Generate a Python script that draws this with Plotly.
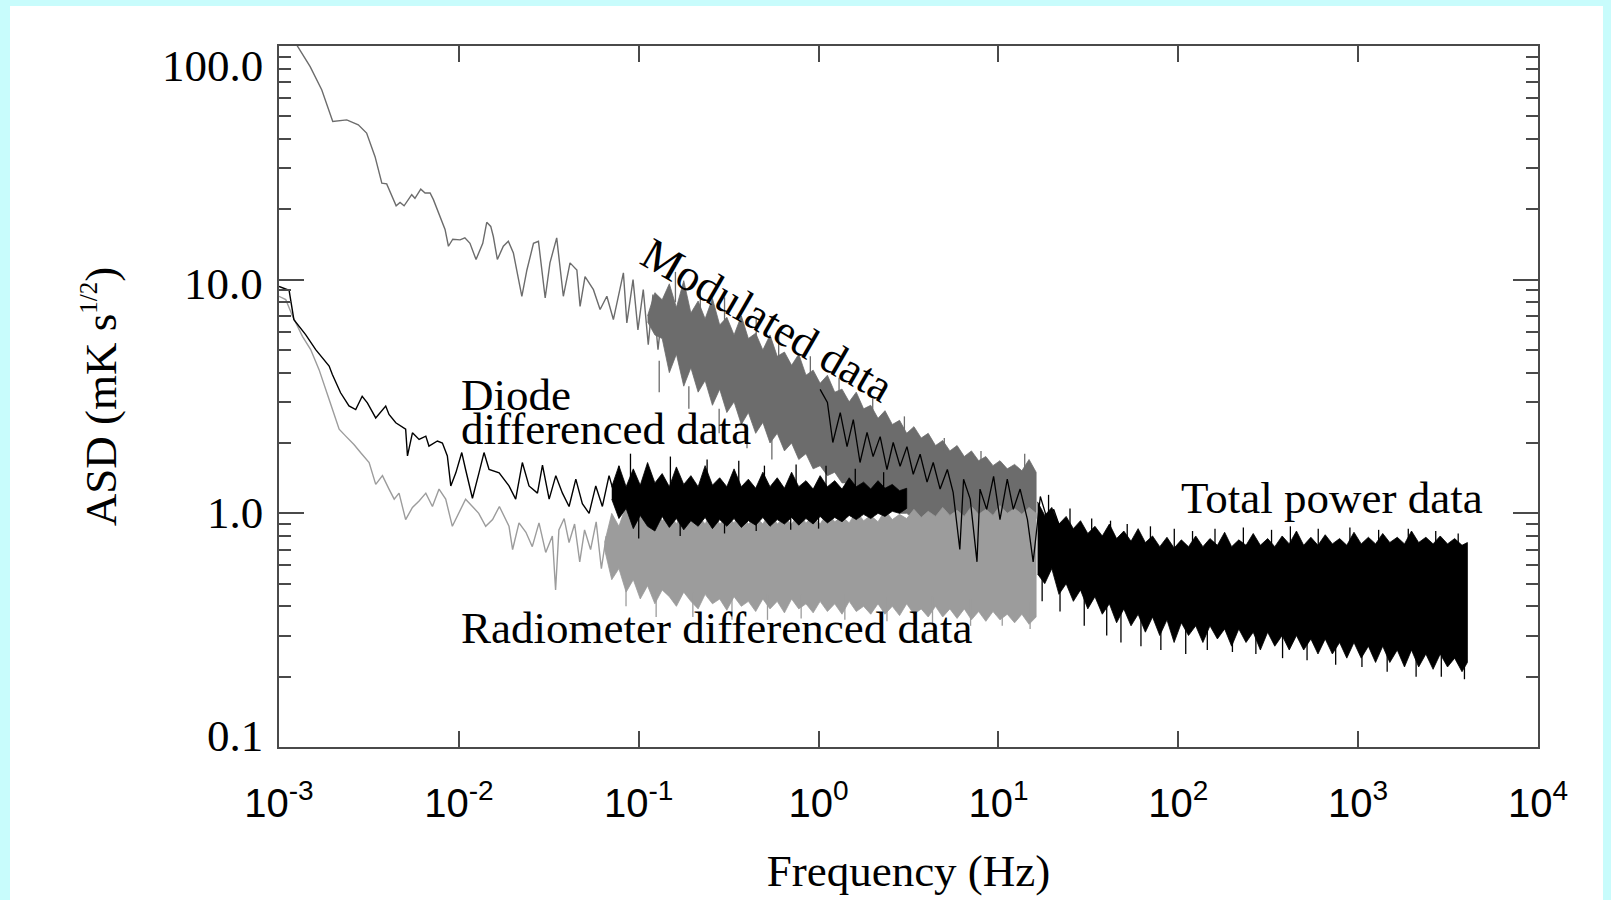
import math
import plotly.graph_objects as go

# ---------------- data ----------------
# Modulated data: low-frequency line
mod_line_f = [0.001, 0.00127, 0.00149, 0.00173, 0.00199, 0.00238, 0.00276, 0.00307, 0.00342, 0.00373,
              0.00397, 0.00448, 0.00471, 0.00496, 0.00547, 0.0057, 0.00614, 0.00649, 0.00692, 0.00722,
              0.00803, 0.00838, 0.00875, 0.00925, 0.01016, 0.0108, 0.01153, 0.01246, 0.01358, 0.01429,
              0.01504, 0.01555, 0.01637, 0.01767, 0.01884, 0.0201, 0.0224, 0.0239, 0.026, 0.0277,
              0.0302, 0.0321, 0.035, 0.0381, 0.0415, 0.0453, 0.0472, 0.0503, 0.056, 0.061,
              0.0665, 0.0723, 0.0822, 0.0859, 0.093, 0.099, 0.106, 0.113, 0.12, 0.128, 0.137]
mod_line_v = [134, 99.3, 81.6, 64.8, 47.5, 48.3, 46.0, 42.4, 33.6, 25.9,
              25.7, 20.7, 21.4, 20.7, 23.1, 22.3, 24.4, 23.5, 23.5, 22.0,
              18.0, 16.4, 13.9, 14.9, 14.8, 15.1, 14.3, 12.2, 14.3, 17.6,
              16.9, 15.3, 12.2, 13.9, 14.6, 13.0, 8.49, 11.0, 14.3, 14.6,
              8.35, 11.8, 15.1, 8.49, 11.8, 11.0, 7.69, 10.3, 9.06, 7.45,
              8.49, 6.75, 10.7, 6.53, 10.0, 6.1, 9.06, 5.27, 8.63, 5.02, 8.2]

# frequency samples of the dense parts below 16 Hz
band_f = [0.0646, 0.0708, 0.0776, 0.0851, 0.0933, 0.102, 0.112, 0.123, 0.135, 0.148,
          0.162, 0.178, 0.195, 0.214, 0.234, 0.257, 0.282, 0.309, 0.339, 0.372,
          0.407, 0.447, 0.490, 0.537, 0.589, 0.646, 0.708, 0.776, 0.851, 0.933,
          1.02, 1.12, 1.23, 1.35, 1.48, 1.62, 1.78, 1.95, 2.14, 2.34,
          2.57, 2.82, 3.09, 3.39, 3.72, 4.07, 4.47, 4.90, 5.37, 5.89,
          6.46, 7.08, 7.76, 8.51, 9.33, 10.2, 11.2, 12.3, 13.5, 14.8, 16.2]

# Modulated data: dense band envelopes (band_f[6:])
mod_band_hi = [7.0, 8.8, 8.2, 9.6, 7.6, 9.9, 7.2, 8.1, 6.8, 8.3,
               6.4, 6.9, 5.8, 7.0, 5.6, 5.9, 5.0, 5.8, 4.7, 4.9,
               4.3, 4.8, 3.9, 4.1, 3.6, 3.9, 3.3, 3.4, 3.0, 3.3,
               2.8, 2.9, 2.55, 2.75, 2.4, 2.5, 2.2, 2.35, 2.1, 2.2,
               1.95, 2.05, 1.85, 1.95, 1.75, 1.85, 1.68, 1.75, 1.6, 1.68,
               1.55, 1.62, 1.52, 1.7, 1.5]
mod_band_lo = [6.6, 5.8, 5.6, 4.0, 4.8, 3.5, 4.2, 3.3, 3.7, 2.9,
               3.4, 2.7, 3.0, 2.4, 2.7, 2.2, 2.45, 2.0, 2.2, 1.85,
               2.0, 1.7, 1.8, 1.55, 1.6, 1.45, 1.5, 1.35, 1.35, 1.25,
               1.25, 1.15, 1.15, 1.05, 1.05, 1.0, 1.0, 0.95, 0.92, 0.95,
               0.9, 0.94, 0.9, 0.93, 0.9, 0.94, 0.9, 0.93, 0.9, 0.93,
               0.9, 0.92, 0.9, 0.92, 0.95]
# isolated spikes sticking out of the modulated band
mod_spk_f = [0.16, 0.22, 0.30, 0.45, 0.60, 0.90, 1.3, 2.0, 3.0, 5.0, 8.0, 14.0,
             0.13, 0.19, 0.28, 0.40, 0.55]
mod_spk_base = [8.0, 7.0, 6.3, 5.3, 4.6, 3.7, 3.1, 2.6, 2.2, 1.85, 1.65, 1.55,
                4.5, 3.5, 2.8, 2.4, 2.1]
mod_spk_tip = [10.8, 9.2, 8.4, 6.9, 6.0, 4.7, 3.8, 3.1, 2.6, 2.1, 1.85, 1.8,
               3.3, 2.8, 2.2, 1.9, 1.7]

# Radiometer differenced data
rad_line_f = [0.001, 0.00109, 0.00119, 0.00135, 0.0015, 0.00167, 0.0019, 0.00216, 0.00235, 0.00261,
              0.00284, 0.00317, 0.00345, 0.00376, 0.00409, 0.00437, 0.00465, 0.00506, 0.00552, 0.00601,
              0.00655, 0.00713, 0.00776, 0.00845, 0.0092, 0.01, 0.0109, 0.0119, 0.0129, 0.0141,
              0.0154, 0.0168, 0.019, 0.0199, 0.0216, 0.0236, 0.0256, 0.0279, 0.0304, 0.0331,
              0.0345, 0.036, 0.0385, 0.041, 0.044, 0.047, 0.050, 0.054, 0.058, 0.062, 0.066, 0.070]
rad_line_v = [8.49, 8.22, 6.97, 5.72, 5.02, 4.12, 3.07, 2.29, 2.14, 1.97,
              1.82, 1.65, 1.33, 1.45, 1.27, 1.15, 1.22, 0.94, 1.06, 1.13,
              1.22, 1.07, 1.27, 1.15, 0.88, 1.0, 1.15, 1.07, 1.0, 0.88,
              0.94, 1.07, 0.88, 0.70, 0.91, 0.83, 0.72, 0.91, 0.68, 0.80,
              0.47, 0.85, 0.95, 0.75, 0.9, 0.62, 0.85, 0.7, 0.92, 0.58, 0.8, 0.6]
# dense band envelopes (band_f[0:])
rad_band_hi = [0.75, 1.0, 0.88, 1.08, 0.9, 1.02, 0.92, 1.1, 0.93, 1.0,
               0.9, 1.05, 0.92, 0.98, 0.9, 1.04, 0.9, 0.97, 0.91, 1.03,
               0.9, 0.97, 0.9, 1.02, 0.9, 0.96, 0.9, 1.0, 0.91, 0.97,
               0.9, 1.01, 0.92, 0.97, 0.91, 1.02, 0.93, 0.98, 0.92, 1.03,
               0.94, 0.99, 0.95, 1.04, 0.96, 1.02, 0.97, 1.06, 0.98, 1.03,
               0.97, 1.07, 0.99, 1.04, 0.98, 1.08, 1.0, 1.05, 0.99, 1.06, 1.0]
rad_band_lo = [0.7, 0.52, 0.58, 0.46, 0.52, 0.43, 0.49, 0.41, 0.47, 0.44,
               0.40, 0.46, 0.42, 0.39, 0.45, 0.41, 0.43, 0.385, 0.44, 0.40,
               0.42, 0.38, 0.43, 0.39, 0.42, 0.375, 0.43, 0.39, 0.41, 0.375,
               0.42, 0.38, 0.41, 0.37, 0.42, 0.38, 0.40, 0.37, 0.41, 0.37,
               0.40, 0.365, 0.41, 0.37, 0.39, 0.36, 0.40, 0.36, 0.39, 0.355,
               0.39, 0.35, 0.38, 0.345, 0.38, 0.35, 0.37, 0.34, 0.37, 0.335, 0.36]
rad_spk_f = [0.085, 0.125, 0.2, 0.33, 0.52, 0.8, 1.4, 2.4, 4.3, 7.0, 10.5, 15.0]
rad_spk_base = [0.5, 0.47, 0.46, 0.45, 0.45, 0.45, 0.45, 0.44, 0.44, 0.43, 0.42, 0.42]
rad_spk_tip = [0.4, 0.36, 0.36, 0.35, 0.35, 0.355, 0.35, 0.345, 0.34, 0.33, 0.33, 0.32]

# Diode differenced data
dio_line_f = [0.001, 0.001138, 0.00121, 0.001406, 0.0016, 0.0019, 0.00198, 0.0022, 0.00245, 0.00267,
              0.0029, 0.0031, 0.00345, 0.00392, 0.00409, 0.00446, 0.00506, 0.00518, 0.00552, 0.00601,
              0.00655, 0.00682, 0.0076, 0.0081, 0.00863, 0.00902, 0.00962, 0.01038, 0.0109, 0.0119,
              0.01294, 0.0138, 0.01472, 0.01675, 0.019, 0.0207, 0.02254, 0.02455, 0.02735, 0.02917,
              0.03177, 0.0346, 0.03767, 0.041, 0.0447, 0.0486, 0.053, 0.0577, 0.0628, 0.0684,
              0.0745, 0.0778]
dio_line_v = [9.36, 9.0, 6.74, 5.82, 5.02, 4.27, 3.93, 3.28, 2.88, 2.78,
              3.17, 2.97, 2.56, 2.88, 2.65, 2.44, 2.29, 1.76, 2.21, 2.07,
              2.14, 1.94, 2.04, 2.0, 1.76, 1.31, 1.49, 1.82, 1.54, 1.16,
              1.49, 1.82, 1.54, 1.49, 1.31, 1.15, 1.65, 1.31, 1.22, 1.61,
              1.15, 1.45, 1.22, 1.07, 1.40, 1.10, 1.0, 1.31, 1.07, 1.45,
              1.15, 1.59]
# dense band envelopes (band_f[1:43])
dio_band_hi = [1.3, 1.6, 1.3, 1.55, 1.32, 1.65, 1.35, 1.48, 1.3, 1.58,
               1.33, 1.45, 1.3, 1.6, 1.32, 1.42, 1.3, 1.55, 1.3, 1.4,
               1.28, 1.5, 1.3, 1.42, 1.28, 1.5, 1.3, 1.38, 1.27, 1.45,
               1.3, 1.38, 1.27, 1.42, 1.3, 1.36, 1.27, 1.38, 1.28, 1.33,
               1.25, 1.28]
dio_band_lo = [1.15, 0.95, 1.05, 0.86, 0.98, 0.88, 0.84, 0.97, 0.87, 0.95,
               0.85, 0.93, 0.88, 0.96, 0.86, 0.94, 0.88, 0.95, 0.87, 0.93,
               0.89, 0.96, 0.88, 0.94, 0.9, 0.96, 0.89, 0.95, 0.9, 0.97,
               0.91, 0.96, 0.92, 0.98, 0.94, 0.99, 0.95, 1.0, 0.97, 1.02,
               1.0, 1.05]
dio_spk_f = [0.09, 0.15, 0.24, 0.36, 0.5, 0.75, 1.1, 1.6, 2.3,
             0.1, 0.17, 0.3, 0.45, 0.7, 1.0]
dio_spk_base = [1.2, 1.2, 1.2, 1.15, 1.15, 1.15, 1.15, 1.15, 1.15,
                1.0, 1.0, 1.0, 1.0, 1.0, 1.0]
dio_spk_tip = [1.8, 1.75, 1.7, 1.68, 1.6, 1.62, 1.6, 1.55, 1.5,
               0.78, 0.8, 0.82, 0.84, 0.85, 0.86]

# Total power data
tp_line_f = [1.02, 1.12, 1.20, 1.32, 1.44, 1.56, 1.70, 1.86, 2.01, 2.20,
             2.40, 2.60, 2.84, 3.1, 3.36, 3.67, 4.01, 4.34, 4.74, 5.2,
             5.6, 6.1, 6.4, 6.97, 7.6, 7.9, 8.6, 9.4, 10.2, 11.2,
             12.1, 13.2, 14.5, 15.6, 17.1, 18.7, 20.3, 22.2]
tp_line_v = [3.39, 2.98, 2.01, 2.70, 1.93, 2.52, 1.65, 2.22, 1.75, 2.13,
             1.54, 2.01, 1.59, 1.93, 1.47, 1.79, 1.36, 1.65, 1.27, 1.54,
             1.23, 0.70, 1.40, 1.15, 0.62, 1.27, 1.04, 1.44, 0.94, 1.40,
             1.04, 1.27, 0.94, 0.62, 1.18, 0.94, 1.04, 0.85]
tp_band_f = [16.5, 18.1, 19.8, 21.7, 23.8, 26.1, 28.6, 31.4, 34.4, 37.8,
             41.4, 45.4, 49.8, 54.6, 59.8, 65.6, 71.9, 78.9, 86.5, 94.8,
             104, 114, 125, 137, 150, 165, 181, 198, 217, 238,
             261, 286, 314, 344, 378, 414, 454, 498, 546, 598,
             656, 719, 789, 865, 948, 1040, 1140, 1250, 1370, 1500,
             1650, 1810, 1980, 2170, 2380, 2610, 2860, 3140, 3440, 3780, 4050]
tp_band_hi = [1.12, 0.98, 1.06, 0.9, 0.97, 0.86, 0.93, 0.82, 0.88, 0.8,
              0.9, 0.78, 0.84, 0.76, 0.86, 0.75, 0.8, 0.72, 0.79, 0.71,
              0.77, 0.72, 0.8, 0.72, 0.78, 0.73, 0.83, 0.72, 0.77, 0.73,
              0.82, 0.73, 0.78, 0.72, 0.8, 0.74, 0.84, 0.73, 0.79, 0.73,
              0.81, 0.74, 0.78, 0.73, 0.83, 0.74, 0.79, 0.74, 0.82, 0.75,
              0.79, 0.74, 0.84, 0.75, 0.79, 0.74, 0.8, 0.74, 0.78, 0.73, 0.75]
tp_band_lo = [0.55, 0.5, 0.58, 0.45, 0.5, 0.42, 0.47, 0.39, 0.44, 0.37,
              0.41, 0.34, 0.39, 0.33, 0.37, 0.31, 0.36, 0.3, 0.35, 0.28,
              0.34, 0.3, 0.33, 0.28, 0.33, 0.29, 0.32, 0.27, 0.32, 0.28,
              0.31, 0.26, 0.31, 0.27, 0.3, 0.26, 0.3, 0.26, 0.29, 0.25,
              0.29, 0.25, 0.28, 0.24, 0.28, 0.24, 0.27, 0.23, 0.27, 0.23,
              0.26, 0.22, 0.26, 0.22, 0.25, 0.215, 0.25, 0.22, 0.24, 0.21, 0.23]
tp_spk_f = [19.0, 25.0, 33.0, 42.0, 52.0, 70.0, 95.0, 120.0, 160.0, 230.0, 330.0, 420.0,
            600.0, 900.0, 1300.0, 1900.0, 2700.0, 3600.0,
            17.5, 22.0, 30.0, 40.0, 48.0, 62.0, 80.0, 110.0, 145.0, 200.0, 270.0, 380.0,
            520.0, 750.0, 1050.0, 1450.0, 2100.0, 2900.0, 3900.0]
tp_spk_base = [0.8, 0.75, 0.7, 0.7, 0.65, 0.65, 0.65, 0.65, 0.65, 0.65, 0.65, 0.65,
               0.65, 0.65, 0.65, 0.65, 0.65, 0.65,
               0.6, 0.55, 0.5, 0.45, 0.45, 0.42, 0.42, 0.4, 0.4, 0.38, 0.38, 0.36,
               0.35, 0.35, 0.33, 0.33, 0.32, 0.3, 0.3]
tp_spk_tip = [1.2, 1.05, 0.95, 0.93, 0.9, 0.88, 0.86, 0.84, 0.86, 0.87, 0.85, 0.88,
              0.86, 0.87, 0.85, 0.86, 0.84, 0.82,
              0.42, 0.38, 0.33, 0.3, 0.28, 0.27, 0.26, 0.25, 0.26, 0.255, 0.25, 0.24,
              0.235, 0.225, 0.22, 0.21, 0.2, 0.2, 0.195]

x_tick_vals = [1e-3, 1e-2, 1e-1, 1e0, 1e1, 1e2, 1e3, 1e4]
x_tick_text = ["10<sup>-3</sup>", "10<sup>-2</sup>", "10<sup>-1</sup>", "10<sup>0</sup>",
               "10<sup>1</sup>", "10<sup>2</sup>", "10<sup>3</sup>", "10<sup>4</sup>"]
y_tick_vals = [0.1, 1.0, 10.0, 100.0]
y_tick_text = ["0.1", "1.0", "10.0", "100.0"]
y_minor_vals = [0.2, 0.3, 0.4, 0.5, 0.6, 0.7, 0.8, 0.9,
                2, 3, 4, 5, 6, 7, 8, 9,
                20, 30, 40, 50, 60, 70, 80, 90]

# ---------------- styles ----------------
MOD_COLOR = "#6c6c6c"
RAD_COLOR = "#9c9c9c"
BLK = "#000000"
AXIS_COLOR = "#4a4a4a"
SERIF = "Liberation Serif, Times New Roman, serif"
SANS = "Liberation Sans, Arial, sans-serif"

W, H = 1611, 900
L, R, T, B = 279, 73, 46, 153


def line(f, v, color, width=1.4):
    return go.Scatter(x=f, y=v, mode="lines", line=dict(color=color, width=width),
                      hoverinfo="skip", showlegend=False)


def band(f, hi, lo, color):
    f = list(f)
    return go.Scatter(x=f + f[::-1], y=list(hi) + list(lo)[::-1],
                      mode="lines", fill="toself", fillcolor=color,
                      line=dict(color=color, width=0.8),
                      hoverinfo="skip", showlegend=False)


def spikes(f, base, tip, color, width=1.3):
    xs, ys = [], []
    for fi, b, t in zip(f, base, tip):
        xs += [fi, fi, None]
        ys += [b, t, None]
    return go.Scatter(x=xs, y=ys, mode="lines", line=dict(color=color, width=width),
                      connectgaps=False, hoverinfo="skip", showlegend=False)


fig = go.Figure()
fig.add_trace(line(mod_line_f, mod_line_v, MOD_COLOR))
fig.add_trace(band(band_f[6:], mod_band_hi, mod_band_lo, MOD_COLOR))
fig.add_trace(spikes(mod_spk_f, mod_spk_base, mod_spk_tip, MOD_COLOR))
fig.add_trace(line(rad_line_f, rad_line_v, RAD_COLOR))
fig.add_trace(band(band_f, rad_band_hi, rad_band_lo, RAD_COLOR))
fig.add_trace(spikes(rad_spk_f, rad_spk_base, rad_spk_tip, RAD_COLOR))
fig.add_trace(line(dio_line_f, dio_line_v, BLK))
fig.add_trace(band(band_f[1:43], dio_band_hi, dio_band_lo, BLK))
fig.add_trace(spikes(dio_spk_f, dio_spk_base, dio_spk_tip, BLK))
fig.add_trace(line(tp_line_f, tp_line_v, BLK, 1.3))
fig.add_trace(band(tp_band_f, tp_band_hi, tp_band_lo, BLK))
fig.add_trace(spikes(tp_spk_f, tp_spk_base, tp_spk_tip, BLK))

pw, ph = W - L - R, H - T - B
fig.add_shape(type="rect", xref="paper", yref="paper",
              x0=(10 - L) / pw, x1=(W - 8 - L) / pw,
              y0=-B / ph, y1=1 + (T - 6) / ph,
              fillcolor="white", line=dict(width=0), layer="below")

fig.update_layout(
    width=W, height=H,
    margin=dict(l=L, r=R, t=T, b=B, autoexpand=False),
    paper_bgcolor="#c8fcfc",
    plot_bgcolor="white",
    showlegend=False,
    xaxis=dict(
        type="log", range=[-3, 4], showgrid=False, zeroline=False,
        showline=True, linecolor=AXIS_COLOR, linewidth=2, mirror="ticks",
        ticks="inside", ticklen=16, tickwidth=2, tickcolor=AXIS_COLOR,
        tickmode="array", tickvals=x_tick_vals, ticktext=x_tick_text,
        tickfont=dict(family=SANS, size=40, color="black"),
        ticklabelstandoff=20,
        title=dict(text="Frequency (Hz)", font=dict(family=SERIF, size=45, color="black"),
                   standoff=30),
    ),
    yaxis=dict(
        type="log", range=[-1, 2], showgrid=False, zeroline=False,
        showline=True, linecolor=AXIS_COLOR, linewidth=2, mirror="ticks",
        ticks="inside", ticklen=25, tickwidth=2, tickcolor=AXIS_COLOR,
        tickmode="array", tickvals=y_tick_vals, showticklabels=False,
        minor=dict(ticks="inside", ticklen=12, tickwidth=2, tickcolor=AXIS_COLOR,
                   tickmode="array", tickvals=y_minor_vals, showgrid=False),
        title=dict(text='ASD (mK s<sup><span style="font-size:25px">1/2</span></sup>)',
                   font=dict(family=SERIF, size=45, color="black"),
                   standoff=146),
    ),
)

# y tick labels (IDL-style: end labels pulled inside the axis range)
y_label_shift = [11, 0, -4, -20]
for val, txt, sh in zip(y_tick_vals, y_tick_text, y_label_shift):
    fig.add_annotation(text=txt, xref="paper", x=0, xanchor="right", xshift=-14,
                       yref="y", y=math.log10(val), yanchor="middle", yshift=sh,
                       showarrow=False, font=dict(family=SERIF, size=45, color="black"))

# curve labels
lab_font = dict(family=SERIF, size=45, color="black")
fig.add_annotation(text="Modulated data", x=-0.286, y=0.829, xref="x", yref="y",
                   textangle=30, showarrow=False, font=lab_font)
fig.add_annotation(text="Diode", x=-2.0, y=0.50, xref="x", yref="y", yshift=2,
                   xanchor="left", showarrow=False, font=lab_font)
fig.add_annotation(text="differenced data", x=-2.0, y=0.36, xref="x", yref="y",
                   xanchor="left", showarrow=False, font=lab_font)
fig.add_annotation(text="Radiometer differenced data", x=-2.0, y=-0.49, xref="x", yref="y",
                   xanchor="left", showarrow=False, font=lab_font)
fig.add_annotation(text="Total power data", x=2.006, y=0.065, xref="x", yref="y",
                   xanchor="left", showarrow=False, font=lab_font)

fig.write_html("out.html", config={"displayModeBar": False},
               post_script="document.body.style.margin='0';")
